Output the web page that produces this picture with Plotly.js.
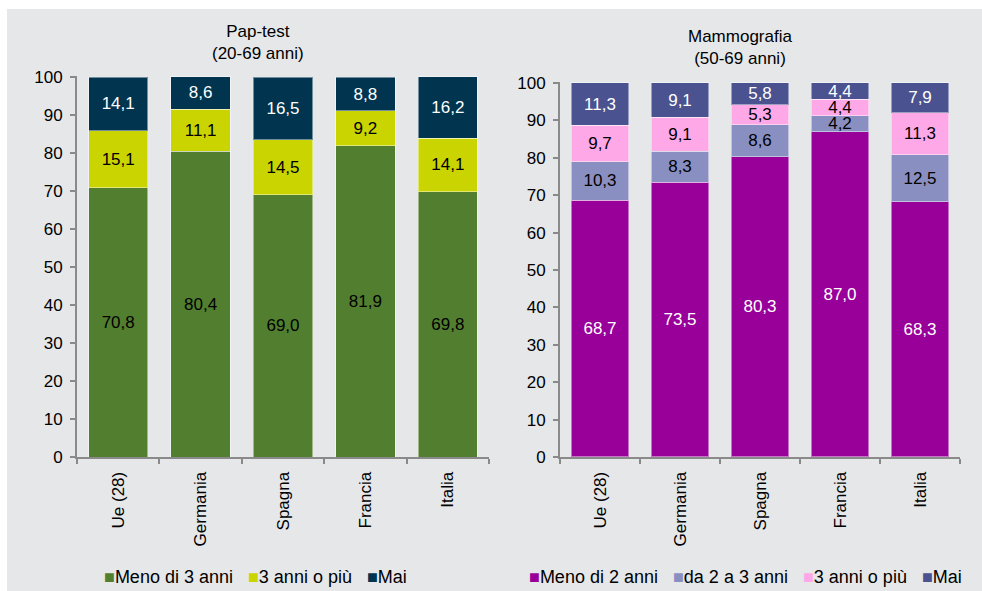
<!DOCTYPE html>
<html>
<head>
<meta charset="utf-8">
<script src="https://cdn.plot.ly/plotly-3.0.1.min.js"></script>
<style>html,body{margin:0;padding:0;background:#fff;}#chart{width:982px;height:591px;}</style>
</head>
<body>
<div id="chart"></div>
<script>
const categories = ["Ue (28)", "Germania", "Spagna", "Francia", "Italia"];

// Pap-test (20-69 anni)
const papNames = ["Meno di 3 anni", "3 anni o più", "Mai"];
const papMeno3 = [70.8, 80.4, 69.0, 81.9, 69.8];
const pap3piu  = [15.1, 11.1, 14.5, 9.2, 14.1];
const papMai   = [14.1, 8.6, 16.5, 8.8, 16.2];

// Mammografia (50-69 anni)
const mamNames = ["Meno di 2 anni", "da 2 a 3 anni", "3 anni o più", "Mai"];
const mamMeno2 = [68.7, 73.5, 80.3, 87.0, 68.3];
const mam2a3   = [10.3, 8.3, 8.6, 4.2, 12.5];
const mam3piu  = [9.7, 9.1, 5.3, 4.4, 11.3];
const mamMai   = [11.3, 9.1, 5.8, 4.4, 7.9];

const papColors = ['#527f2f', '#c9d400', '#00344f'];
const papText   = ['#000000', '#000000', '#ffffff'];
const mamColors = ['#990099', '#8a8fc1', '#ffa8e8', '#4a5290'];
const mamText   = ['#ffffff', '#000000', '#000000', '#ffffff'];

const FONT = '"Liberation Sans", Arial, sans-serif';
const FS = 17;

function bar(name, y, color, textColor, xa, ya) {
  return {
    type: 'bar', name: name, x: categories, y: y,
    xaxis: xa, yaxis: ya, showlegend: false,
    marker: {color: color, line: {color: 'rgba(255,255,255,0.45)', width: 1}},
    texttemplate: '%{y:.1f}', textposition: 'inside', insidetextanchor: 'middle',
    constraintext: 'none', cliponaxis: false,
    insidetextfont: {family: FONT, size: FS, color: textColor},
    hoverinfo: 'none'
  };
}

const papSeries = [papMeno3, pap3piu, papMai];
const mamSeries = [mamMeno2, mam2a3, mam3piu, mamMai];
const data = [];
papSeries.forEach((s, i) => data.push(bar(papNames[i], s, papColors[i], papText[i], 'x', 'y')));
mamSeries.forEach((s, i) => data.push(bar(mamNames[i], s, mamColors[i], mamText[i], 'x2', 'y2')));

function legendText(names, colors) {
  return names.map((n, i) => '<span style="color:' + colors[i] + '">■</span>' + n)
              .join('&nbsp;&nbsp;&nbsp;');
}

const axisCommon = {
  showline: true, linecolor: '#8a8a8a', linewidth: 2,
  ticks: 'outside', tickcolor: '#8a8a8a', tickwidth: 2, ticklen: 5,
  showgrid: false, zeroline: false,
  tickfont: {family: FONT, size: FS, color: '#000000'}
};

const W = 982, H = 591;
const TOP = 100.3;
const layout = {
  width: W, height: H,
  margin: {l: 0, r: 0, t: 0, b: 0},
  paper_bgcolor: '#ffffff', plot_bgcolor: 'rgba(0,0,0,0)',
  separators: ',.',
  barmode: 'stack',
  bargap: 0.28,
  showlegend: false,
  font: {family: FONT, size: FS, color: '#000000'},
  xaxis: Object.assign({}, axisCommon, {domain: [77/W, 489/W], anchor: 'y', tickson: 'boundaries', tickangle: -90, type: 'category', ticklabelstandoff: 6}),
  yaxis: Object.assign({}, axisCommon, {domain: [1-457/H, 1-(457-380*TOP/100)/H], anchor: 'x', range: [0, TOP], tickvals: [0,10,20,30,40,50,60,70,80,90,100], ticklabelstandoff: 4}),
  xaxis2: Object.assign({}, axisCommon, {domain: [560/W, 960/W], anchor: 'y2', tickson: 'boundaries', tickangle: -90, type: 'category', ticklabelstandoff: 6}),
  yaxis2: Object.assign({}, axisCommon, {domain: [1-457/H, 1-(457-374*TOP/100)/H], anchor: 'x2', range: [0, TOP], tickvals: [0,10,20,30,40,50,60,70,80,90,100], ticklabelstandoff: 4}),
  shapes: [{type: 'rect', xref: 'paper', yref: 'paper', x0: 7/W, x1: 1, y0: 0, y1: 1-9/H,
            fillcolor: '#e6e7e9', line: {width: 0}, layer: 'below'}],
  annotations: [
    {xref: 'paper', yref: 'paper', x: 258/W, y: 1-43/H, xanchor: 'center', yanchor: 'middle', showarrow: false,
     text: 'Pap-test<br>(20-69 anni)', font: {family: FONT, size: FS, color: '#000000'}},
    {xref: 'paper', yref: 'paper', x: 740/W, y: 1-47/H, xanchor: 'center', yanchor: 'middle', showarrow: false,
     text: 'Mammografia<br>(50-69 anni)', font: {family: FONT, size: FS, color: '#000000'}},
    {xref: 'paper', yref: 'paper', x: 255.5/W, y: 1-577/H, xanchor: 'center', yanchor: 'middle', showarrow: false,
     text: legendText(papNames, papColors), font: {family: FONT, size: 18, color: '#000000'}},
    {xref: 'paper', yref: 'paper', x: 745/W, y: 1-577/H, xanchor: 'center', yanchor: 'middle', showarrow: false,
     text: legendText(mamNames, mamColors), font: {family: FONT, size: 18, color: '#000000'}}
  ]
};

Plotly.newPlot('chart', data, layout, {displayModeBar: false, staticPlot: true});
</script>
</body>
</html>
